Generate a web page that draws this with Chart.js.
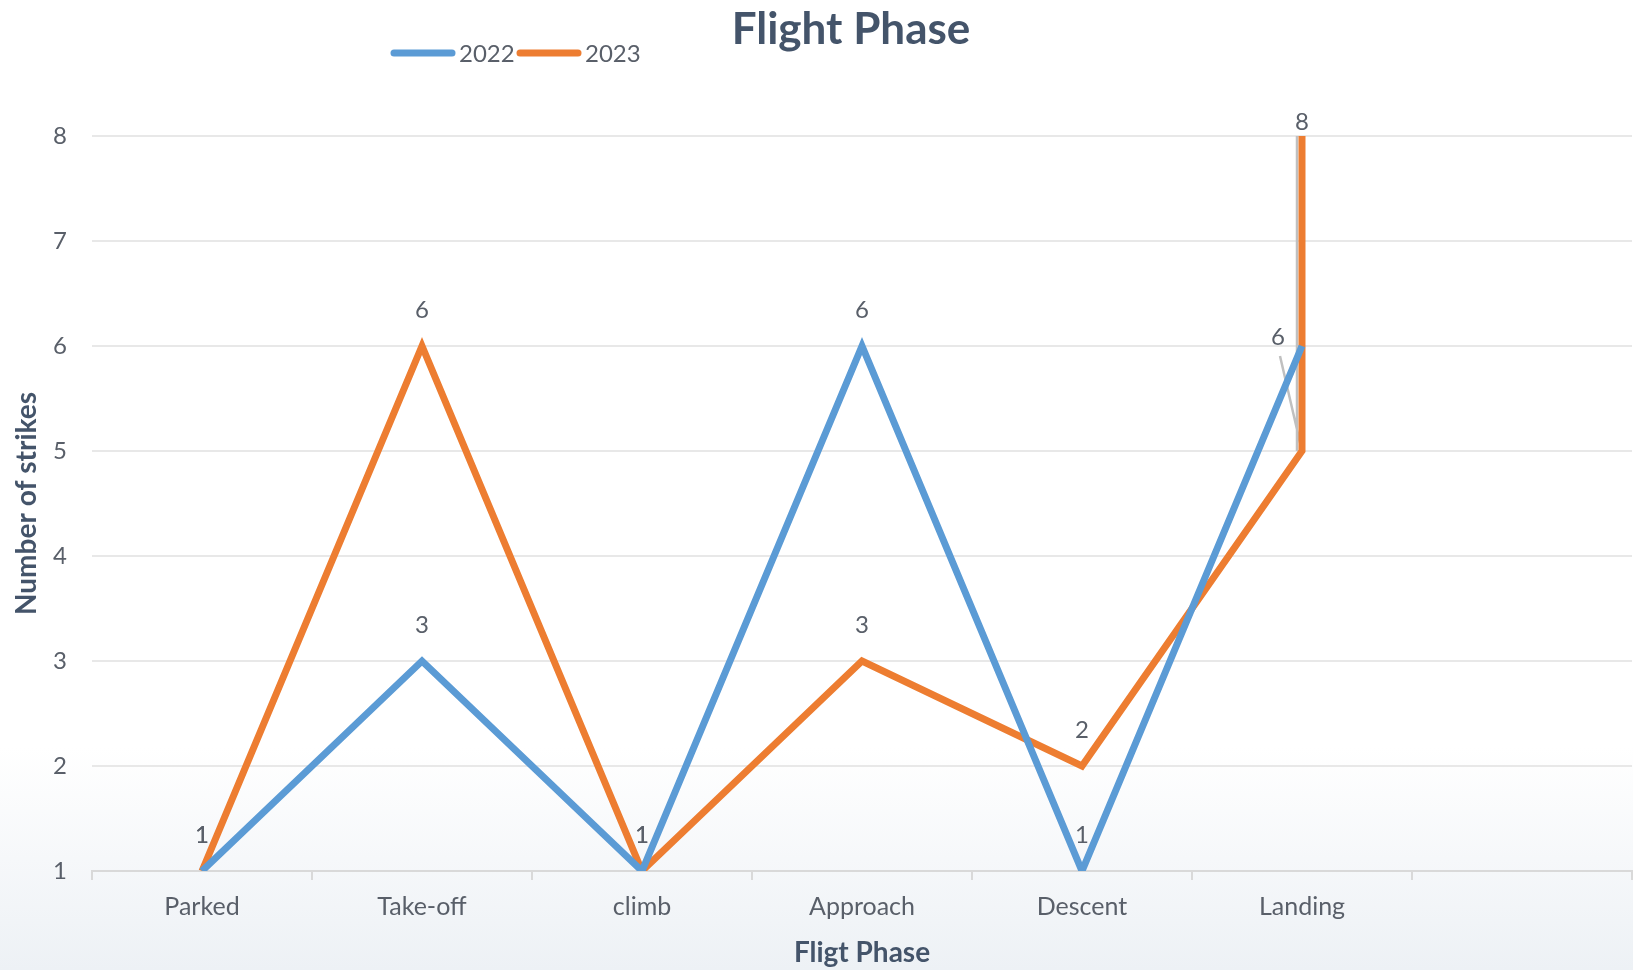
<!DOCTYPE html>
<html>
<head>
<meta charset="utf-8">
<script src="https://cdn.jsdelivr.net/npm/chart.js@4/dist/chart.umd.min.js"></script>
<style>
  html, body { margin: 0; padding: 0; }
  body {
    width: 1633px; height: 970px; overflow: hidden;
    background: linear-gradient(to bottom, #ffffff 0%, #ffffff 77%, #edf1f5 100%);
  }
  #wrap { position: relative; width: 1633px; height: 970px; }
</style>
</head>
<body>
<div id="wrap"><canvas id="chart" width="1633" height="970"></canvas></div>
<script>
// categories (last slot is an empty category on the axis)
const phases = ['Parked', 'Take-off', 'climb', 'Approach', 'Descent', 'Landing', ''];
const strikes2022 = [1, 3, 1, 6, 1, 6];
const strikes2023 = [1, 6, 1, 3, 2, 5];
// the 2023 line jumps straight up at Landing to this value
const landingPeak2023 = 8;
const yTicks = [1, 2, 3, 4, 5, 6, 7, 8];

const textColor = '#44546a';
const labelColor = '#595f69';
const fontFamily = 'Lato, "Open Sans", sans-serif';

// 2023 series as x/y pairs so the extra Landing point sits on the same category
const series2023 = strikes2023.map((v, i) => ({ x: phases[i], y: v }));
series2023.push({ x: 'Landing', y: landingPeak2023 });

// Title and legend drawn by hand (legend sits left of the title)
const headerPlugin = {
    id: 'header',
    afterDraw(chart) {
        const ctx = chart.ctx;
        ctx.save();
        ctx.fillStyle = textColor;
        ctx.font = 'bold 44px ' + fontFamily;
        ctx.textAlign = 'center';
        ctx.textBaseline = 'middle';
        ctx.fillText('Flight Phase', 851, 30);

        let x = 394;
        const y = 53;
        ctx.font = '24px ' + fontFamily;
        ctx.textAlign = 'left';
        chart.data.datasets.forEach(ds => {
            ctx.strokeStyle = ds.borderColor;
            ctx.lineWidth = 7;
            ctx.lineCap = 'round';
            ctx.beginPath();
            ctx.moveTo(x, y);
            ctx.lineTo(x + 58, y);
            ctx.stroke();
            ctx.fillStyle = labelColor;
            ctx.fillText(ds.label, x + 65, y + 1);
            x += 126;
        });
        ctx.restore();
    }
};

// Value labels above each point, plus the grey leader lines at Landing
const valueLabelPlugin = {
    id: 'valueLabels',
    beforeDatasetsDraw(chart) {
        const ctx = chart.ctx;
        const xs = chart.scales.x;
        const ys = chart.scales.y;
        const lx = xs.getPixelForValue(5);
        ctx.save();
        ctx.strokeStyle = '#c0c0c0';
        ctx.lineWidth = 2.5;
        ctx.beginPath();
        ctx.moveTo(lx - 5, ys.getPixelForValue(landingPeak2023));
        ctx.lineTo(lx - 5, ys.getPixelForValue(5));
        ctx.moveTo(lx - 22, ys.getPixelForValue(6) + 10);
        ctx.lineTo(lx, ys.getPixelForValue(5));
        ctx.stroke();
        ctx.restore();
    },
    afterDatasetsDraw(chart) {
        const ctx = chart.ctx;
        ctx.save();
        ctx.font = '24px ' + fontFamily;
        ctx.fillStyle = labelColor;
        ctx.textAlign = 'center';
        ctx.textBaseline = 'middle';
        chart.data.datasets.forEach((ds, di) => {
            const meta = chart.getDatasetMeta(di);
            meta.data.forEach((pt, i) => {
                const raw = ds.data[i];
                const v = typeof raw === 'object' ? raw.y : raw;
                let dx = 0, dy = -36;
                if (di === 0 && i === 5) { dx = -24; dy = -9; }
                if (di === 1 && i === 5) return;
                if (di === 1 && i === 6) { dy = -14; }
                ctx.fillText(String(v), pt.x + dx, pt.y + dy);
            });
        });
        ctx.restore();
    }
};

new Chart(document.getElementById('chart'), {
    type: 'line',
    data: {
        labels: phases,
        datasets: [
            {
                label: '2022',
                data: strikes2022,
                borderColor: '#5b9bd5',
                backgroundColor: '#5b9bd5',
                borderWidth: 7,
                pointRadius: 0,
                tension: 0
            },
            {
                label: '2023',
                data: series2023,
                borderColor: '#ed7d31',
                backgroundColor: '#ed7d31',
                borderWidth: 7,
                pointRadius: 0,
                tension: 0
            }
        ]
    },
    options: {
        responsive: false,
        animation: false,
        maintainAspectRatio: false,
        layout: { padding: { top: 136, right: 1, left: 0, bottom: 0 } },
        plugins: {
            legend: { display: false },
            title: { display: false },
            tooltip: { enabled: false }
        },
        scales: {
            x: {
                type: 'category',
                offset: true,
                grid: {
                    offset: true,
                    drawOnChartArea: false,
                    drawTicks: true,
                    tickLength: 9,
                    color: '#d9d9d9',
                    lineWidth: 2
                },
                border: { display: true, color: '#d9d9d9', width: 2 },
                ticks: {
                    color: labelColor,
                    font: { family: fontFamily, size: 25 },
                    padding: 12,
                    maxRotation: 0,
                    autoSkip: false
                },
                title: {
                    display: true,
                    text: 'Fligt Phase',
                    color: textColor,
                    font: { family: fontFamily, size: 28, weight: 'bold' },
                    padding: { top: 8, bottom: 0 }
                },
                afterFit(scale) { scale.height = 99; }
            },
            y: {
                min: 1,
                max: 8,
                afterBuildTicks(scale) { scale.ticks = yTicks.map(v => ({ value: v })); },
                grid: {
                    color: '#e8e8e8',
                    lineWidth: 2,
                    drawTicks: true,
                    tickLength: 0
                },
                border: { display: false },
                ticks: {
                    color: labelColor,
                    font: { family: fontFamily, size: 24 },
                    padding: 25
                },
                title: {
                    display: true,
                    text: 'Number of strikes',
                    color: textColor,
                    font: { family: fontFamily, size: 28, weight: 'bold' },
                    padding: { top: 10, bottom: 0 }
                },
                afterFit(scale) { scale.width = 92; }
            }
        }
    },
    plugins: [headerPlugin, valueLabelPlugin]
});
</script>
</body>
</html>
